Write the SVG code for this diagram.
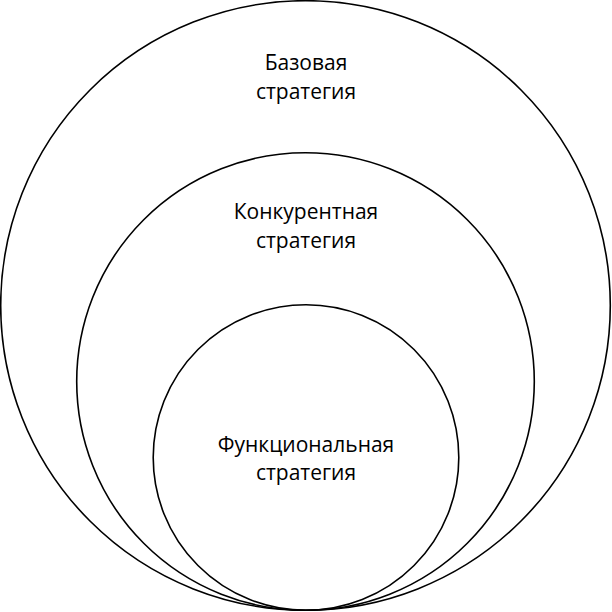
<svg xmlns="http://www.w3.org/2000/svg" width="612" height="612" viewBox="0 0 612 612">
<style>
.c{fill:none;stroke:#000;stroke-width:1.6}
.t{font-family:"Open Sans","Noto Sans",sans-serif;font-size:21px;fill:#000;text-anchor:middle}
</style>
<rect width="612" height="612" fill="#fff"/>
<g id="base"><circle class="c" cx="305.5" cy="305.5" r="304.8"/>
<text class="t" x="306" y="70">Базовая</text><text class="t" x="306" y="99">стратегия</text></g>
<g id="competitive"><circle class="c" cx="305.5" cy="381.5" r="228.8"/>
<text class="t" x="306" y="219">Конкурентная</text><text class="t" x="306" y="248">стратегия</text></g>
<g id="functional"><circle class="c" cx="306" cy="457.5" r="152.8"/>
<text class="t" x="306" y="452">Функциональная</text><text class="t" x="306" y="480">стратегия</text></g>
<g id="connectors"/>
</svg>
